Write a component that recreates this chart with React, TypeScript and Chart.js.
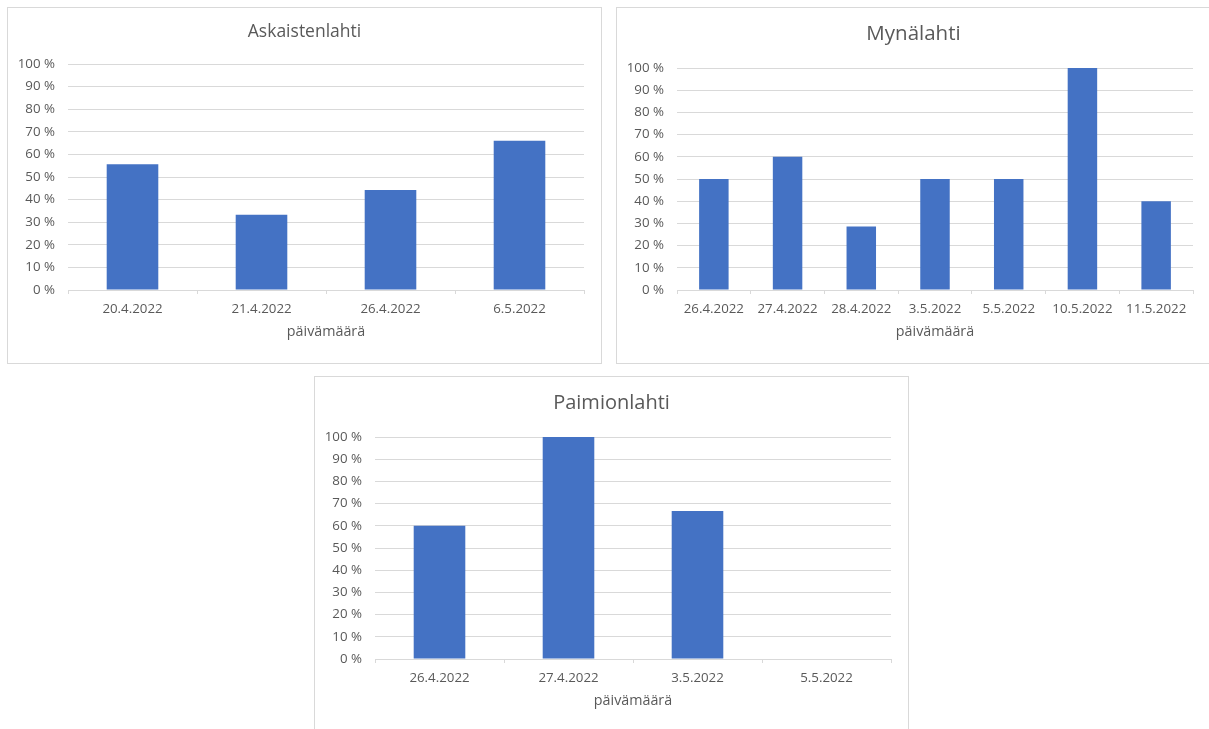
import React, { useEffect, useRef } from "react";
import { Chart, registerables } from "chart.js";

Chart.register(...registerables);

// ---- Data ----
const askaistenlahtiDates = ["20.4.2022", "21.4.2022", "26.4.2022", "6.5.2022"];
const askaistenlahtiValues = [55.6, 33.3, 44.2, 66];

const mynalahtiDates = ["26.4.2022", "27.4.2022", "28.4.2022", "3.5.2022", "5.5.2022", "10.5.2022", "11.5.2022"];
const mynalahtiValues = [50, 60, 28.6, 50, 50, 100, 40];

const paimionlahtiDates = ["26.4.2022", "27.4.2022", "3.5.2022", "5.5.2022"];
const paimionlahtiValues = [60, 100, 66.7, 0];

const xAxisTitle = "päivämäärä";
const yMin = 0;
const yMax = 100;
const yStep = 10;

// ---- Styling ----
const FONT = "'Open Sans', 'Noto Sans', sans-serif";
const TEXT = "#595959";
const GRID = "#D9D9D9";
const BAR = "#4472C4";

const borderPlugin = {
  id: "boxBorder",
  afterDraw(chart: any) {
    const { ctx, width, height } = chart;
    ctx.save();
    ctx.strokeStyle = GRID;
    ctx.lineWidth = 1;
    ctx.strokeRect(0.5, 0.5, width - 1, height - 1);
    ctx.restore();
  },
};

type Props = {
  left: number;
  top: number;
  title: string;
  labels: string[];
  values: number[];
  titleSize: number;
  titleMiddle: number;
  plotTop: number;
};

const W = 595;
const H = 357;

function BarPanel({ left, top, title, labels, values, titleSize, titleMiddle, plotTop }: Props) {
  const ref = useRef<HTMLCanvasElement | null>(null);

  useEffect(() => {
    if (!ref.current) return;
    const lh = titleSize * 1.2;
    const padTop = titleMiddle - lh / 2;
    const padBottom = plotTop - padTop - lh;
    const chart = new Chart(ref.current, {
      type: "bar",
      data: {
        labels,
        datasets: [
          {
            data: values,
            backgroundColor: BAR,
            borderWidth: 0,
            categoryPercentage: 1,
            barPercentage: 0.4,
            yAxisID: "y",
          },
        ],
      },
      options: {
        animation: false,
        responsive: false,
        devicePixelRatio: 1,
        layout: { padding: 0 },
        plugins: {
          legend: { display: false },
          tooltip: { enabled: false },
          title: {
            display: true,
            text: title,
            color: TEXT,
            font: { family: FONT, size: titleSize, weight: "normal" as any },
            padding: { top: padTop, bottom: padBottom },
          },
        },
        scales: {
          x: {
            offset: true,
            grid: {
              display: true,
              drawOnChartArea: false,
              drawTicks: true,
              tickLength: 4,
              color: GRID,
              offset: true,
            },
            border: { display: true, color: GRID, width: 1 },
            ticks: {
              color: TEXT,
              font: { family: FONT, size: 13.3 },
              padding: 7,
              maxRotation: 0,
              autoSkip: false,
            },
            title: {
              display: true,
              text: xAxisTitle,
              color: TEXT,
              font: { family: FONT, size: 14.3 },
              padding: { top: 4, bottom: 23.3 },
            },
            afterFit: (scale: any) => {
              scale.height = 74;
            },
          },
          y: {
            position: "left",
            min: yMin,
            max: yMax,
            grid: { color: GRID, lineWidth: 1, drawTicks: false },
            border: { display: false },
            ticks: {
              stepSize: yStep,
              color: TEXT,
              font: { family: FONT, size: 13.3 },
              padding: 13,
              callback: (v: any) => `${v} %`,
            },
            afterFit: (scale: any) => {
              scale.width = 61;
            },
          },
          yRightSpace: {
            position: "right",
            display: true,
            min: yMin,
            max: yMax,
            grid: { display: false, drawOnChartArea: false, drawTicks: false },
            border: { display: false },
            ticks: { display: false },
            afterFit: (scale: any) => {
              scale.width = 18;
            },
          },
        },
      },
      plugins: [borderPlugin],
    });
    return () => chart.destroy();
  }, []);

  return (
    <canvas
      ref={ref}
      width={W}
      height={H}
      style={{ position: "absolute", left, top, width: W, height: H, display: "block" }}
    />
  );
}

export default function App() {
  return (
    <div
      style={{
        position: "fixed",
        left: 0,
        top: 0,
        width: 1209,
        height: 729,
        overflow: "hidden",
        background: "#ffffff",
      }}
    >
      <BarPanel
        left={7}
        top={7}
        title="Askaistenlahti"
        labels={askaistenlahtiDates}
        values={askaistenlahtiValues}
        titleSize={17.5}
        titleMiddle={25}
        plotTop={57}
      />
      <BarPanel
        left={616}
        top={7}
        title="Mynälahti"
        labels={mynalahtiDates}
        values={mynalahtiValues}
        titleSize={20.5}
        titleMiddle={27.5}
        plotTop={61}
      />
      <BarPanel
        left={314}
        top={376}
        title="Paimionlahti"
        labels={paimionlahtiDates}
        values={paimionlahtiValues}
        titleSize={20}
        titleMiddle={27}
        plotTop={61}
      />
    </div>
  );
}
